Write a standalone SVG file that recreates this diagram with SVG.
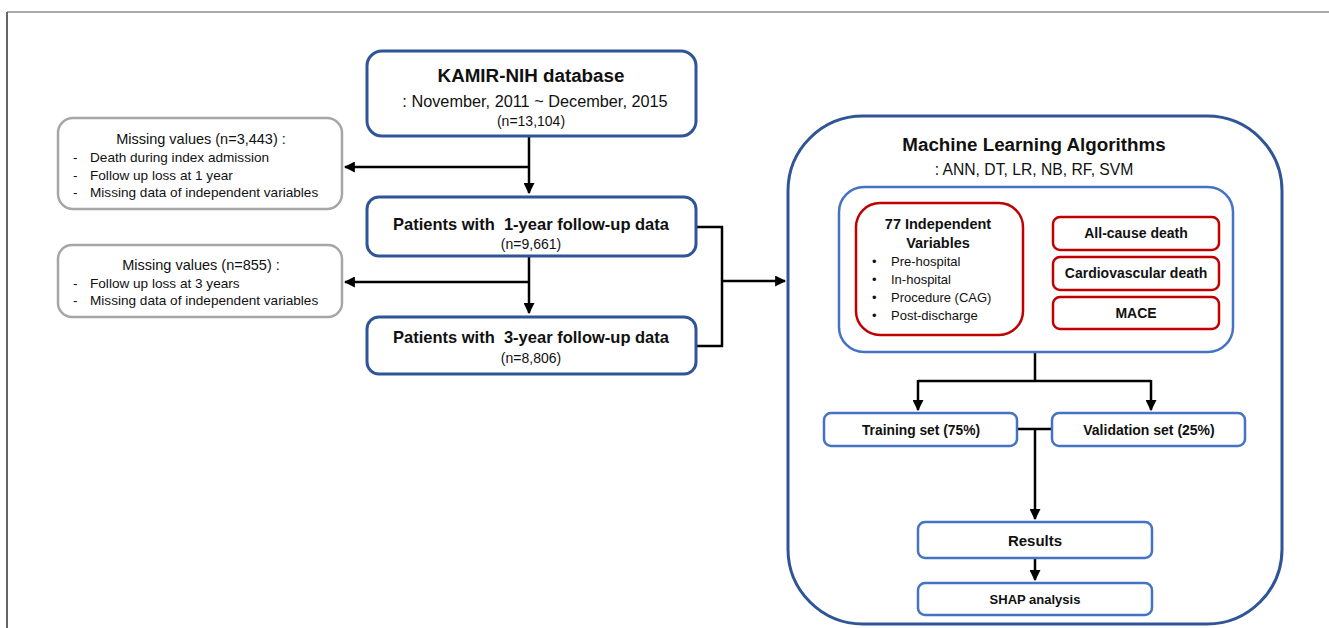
<svg xmlns="http://www.w3.org/2000/svg" width="1329" height="628" viewBox="0 0 1329 628">
<style>
text{font-family:"Liberation Sans",Arial,sans-serif;fill:#111}
.b{font-weight:bold}
.dk{fill:#fff;stroke:#2F5597;stroke-width:3}
.lb{fill:#fff;stroke:#4472C4;stroke-width:2.5}
.rd{fill:#fff;stroke:#C00000;stroke-width:2.5}
.gr{fill:#fff;stroke:#A6A6A6;stroke-width:2.5}
.c{fill:none;stroke:#000;stroke-width:2.5}
.pre{white-space:pre}
.m{font-size:13.6px}
.v{font-size:13px}
</style>
<defs>
<marker id="ah" viewBox="0 0 10 10" refX="9" refY="5" markerWidth="4.4" markerHeight="4.4" orient="auto" markerUnits="strokeWidth">
<path d="M0,0 L10,5 L0,10 z" fill="#000"/>
</marker>
</defs>
<g id="frame">
<line x1="7" y1="12" x2="1329" y2="12" stroke="#AAAAAA" stroke-width="2"/>
<line x1="7" y1="12" x2="7" y2="628" stroke="#666666" stroke-width="2"/>
</g>
<g id="ml-container">
<rect x="788" y="116" width="494" height="508" rx="75" ry="75" class="dk"/>
<text x="1034" y="151" text-anchor="middle" class="b" font-size="18.8">Machine Learning Algorithms</text>
<text x="1034" y="175" text-anchor="middle" font-size="15.7">: ANN, DT, LR, NB, RF, SVM</text>
</g>
<g id="connectors">
<path d="M529,137 V193" class="c" marker-end="url(#ah)"/>
<path d="M529,167 H345" class="c" marker-end="url(#ah)"/>
<path d="M529,256 V313" class="c" marker-end="url(#ah)"/>
<path d="M529,282 H345" class="c" marker-end="url(#ah)"/>
<path d="M697,227 H722 V346 H697" class="c"/>
<path d="M722,281 H785" class="c" marker-end="url(#ah)"/>
<path d="M1035,352 V381" class="c"/>
<path d="M918,381 H1151" class="c"/>
<path d="M918,380 V410" class="c" marker-end="url(#ah)"/>
<path d="M1151,380 V410" class="c" marker-end="url(#ah)"/>
<path d="M1017,429 H1052" class="c"/>
<path d="M1035,429 V519" class="c" marker-end="url(#ah)"/>
<path d="M1035,558 V580" class="c" marker-end="url(#ah)"/>
</g>
<g id="kamir">
<rect x="367" y="51" width="329" height="85" rx="15" class="dk"/>
<text x="531" y="82" text-anchor="middle" class="b" font-size="18.8">KAMIR-NIH database</text>
<text x="535" y="107" text-anchor="middle" font-size="16.3">: November, 2011 ~ December, 2015</text>
<text x="531" y="126" text-anchor="middle" font-size="14">(n=13,104)</text>
</g>
<g id="missing1">
<rect x="58" y="118" width="284" height="91" rx="15" class="gr"/>
<text x="201" y="144" text-anchor="middle" font-size="14.5">Missing values (n=3,443) :</text>
<text x="73" y="162" class="m">-</text>
<text x="90" y="162" class="m">Death during index admission</text>
<text x="73" y="180" class="m">-</text>
<text x="90" y="180" class="m">Follow up loss at 1 year</text>
<text x="73" y="197" class="m">-</text>
<text x="90" y="197" class="m">Missing data of independent variables</text>
</g>
<g id="patients1">
<rect x="367" y="197" width="329" height="59" rx="12" class="dk"/>
<text x="531" y="230" text-anchor="middle" class="b pre" font-size="16.5">Patients with  1-year follow-up data</text>
<text x="531" y="249" text-anchor="middle" font-size="14">(n=9,661)</text>
</g>
<g id="missing2">
<rect x="58" y="245" width="284" height="72" rx="14" class="gr"/>
<text x="201" y="270" text-anchor="middle" font-size="14.5">Missing values (n=855) :</text>
<text x="73" y="288" class="m">-</text>
<text x="90" y="288" class="m">Follow up loss at 3 years</text>
<text x="73" y="305" class="m">-</text>
<text x="90" y="305" class="m">Missing data of independent variables</text>
</g>
<g id="patients3">
<rect x="367" y="317" width="329" height="57" rx="12" class="dk"/>
<text x="531" y="343" text-anchor="middle" class="b pre" font-size="16.5">Patients with  3-year follow-up data</text>
<text x="531" y="363" text-anchor="middle" font-size="14">(n=8,806)</text>
</g>
<g id="inputs-panel">
<rect x="839" y="187" width="394" height="165" rx="25" class="lb"/>
</g>
<g id="independent-vars">
<rect x="856" y="203" width="167" height="132" rx="24" class="rd"/>
<text x="938" y="229" text-anchor="middle" class="b" font-size="14.5">77 Independent</text>
<text x="938" y="248" text-anchor="middle" class="b" font-size="14.5">Variables</text>
<text x="872" y="266" class="v">•</text>
<text x="891" y="266" class="v">Pre-hospital</text>
<text x="872" y="284" class="v">•</text>
<text x="891" y="284" class="v">In-hospital</text>
<text x="872" y="302" class="v">•</text>
<text x="891" y="302" class="v">Procedure (CAG)</text>
<text x="872" y="320" class="v">•</text>
<text x="891" y="320" class="v">Post-discharge</text>
</g>
<g id="all-cause">
<rect x="1053" y="217" width="166" height="33" rx="7" class="rd"/>
<text x="1136" y="238" text-anchor="middle" class="b" font-size="14">All-cause death</text>
</g>
<g id="cardiovascular">
<rect x="1053" y="257" width="166" height="33" rx="7" class="rd"/>
<text x="1136" y="278" text-anchor="middle" class="b" font-size="14">Cardiovascular death</text>
</g>
<g id="mace">
<rect x="1053" y="297" width="166" height="32" rx="7" class="rd"/>
<text x="1136" y="318" text-anchor="middle" class="b" font-size="14">MACE</text>
</g>
<g id="training">
<rect x="824" y="413" width="193" height="33" rx="7" class="lb"/>
<text x="921" y="435" text-anchor="middle" class="b" font-size="13.8">Training set (75%)</text>
</g>
<g id="validation">
<rect x="1052" y="413" width="193" height="33" rx="7" class="lb"/>
<text x="1149" y="435" text-anchor="middle" class="b" font-size="14">Validation set (25%)</text>
</g>
<g id="results">
<rect x="918" y="522" width="234" height="36" rx="7" class="lb"/>
<text x="1035" y="546" text-anchor="middle" class="b" font-size="15">Results</text>
</g>
<g id="shap">
<rect x="918" y="583" width="234" height="32" rx="7" class="lb"/>
<text x="1035" y="604" text-anchor="middle" class="b" font-size="13">SHAP analysis</text>
</g>
</svg>
